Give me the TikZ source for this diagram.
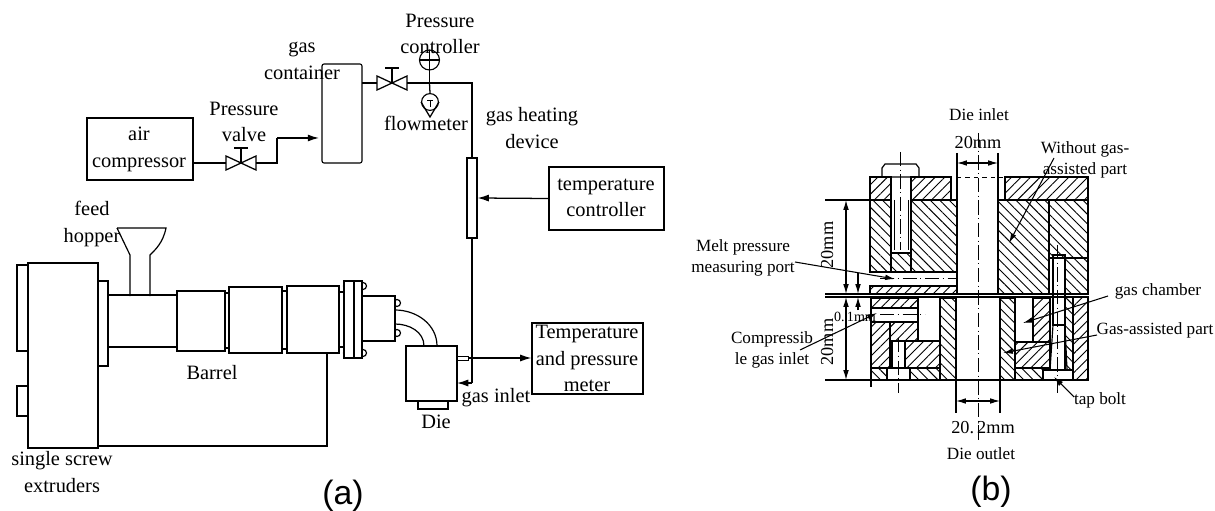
\documentclass[tikz,border=0pt]{standalone}
\usepackage{fontspec}
\setmainfont{Liberation Serif}
\setsansfont{Liberation Sans}
\usetikzlibrary{patterns.meta, arrows.meta}
\tikzset{
	box/.style={draw, line width=.8pt, inner sep=0pt, align=center},
	part/.style={draw, line width=.85pt},
	lab/.style={inner sep=0pt, align=center, font=\fontsize{14.5}{19}\selectfont},
	labsmall/.style={inner sep=0pt, align=center, font=\fontsize{12.2}{15}\selectfont},
	tag/.style={inner sep=0pt, font=\sffamily\fontsize{24}{24}\selectfont},
	pipe/.style={line width=.9pt},
	tipa/.tip={Latex[length=8pt, width=5pt]},
	tipb/.tip={Latex[length=7pt, width=4pt]},
	leader/.style={line width=.75pt, -tipb},
	dimline/.style={line width=.75pt, tipb-tipb},
	axisline/.style={line width=.7pt, dash pattern=on 10pt off 2.5pt on 1pt off 2.5pt},
	hatchr/.style={draw, line width=.85pt, pattern={Lines[angle=45, distance=4.8pt, line width=.65pt]}},
	hatchl/.style={draw, line width=.85pt, pattern={Lines[angle=-45, distance=4.8pt, line width=.65pt]}},
	valve/.pic={
		\draw[pipe] (-15,-7) -- (15,7) -- (15,-7) -- (-15,7) -- cycle;
		\draw[pipe] (0,0) -- (0,-15);
		\draw[pipe] (-7,-15) -- (7,-15);
		\coordinate (-l) at (-15,0);
		\coordinate (-r) at (15,0);
	},
}
\begin{document}
\begin{tikzpicture}[x=0.025cm, y=-0.025cm]
	\useasboundingbox (0,0) rectangle (1215,511);
	% gas line
	\node[box, minimum width=2.65cm, minimum height=1.55cm] (aircomp) at (140,149) {};
	\node[lab] (aircomp-t) at (139,149.5) {air\\compressor};
	\pic (valvea) at (241,163) {valve};
	\node[box, rounded corners=1.5pt, minimum width=1cm, minimum height=2.475cm] (tank) at (342,113.5) {};
	\pic (valveb) at (392,83) {valve};
	\node[box, minimum width=.25cm, minimum height=2cm] (heater) at (472,198) {};
	\node[box, minimum width=2.875cm, minimum height=1.575cm] (tempctrl) at (606.5,198.5) {};
	\node[lab] (tempctrl-t) at (606,198) {temperature\\controller};
	\coordinate (pipea) at (277,163);
	\coordinate (pipeb) at (277,138);
	\coordinate (tankin) at (319,138);
	\coordinate (tankout) at (362,83);
	\coordinate (pipec) at (472,83);
	\draw[pipe] (aircomp.east |- pipea) -- (valvea-l);
	\draw[pipe] (valvea-r) -- (pipea) -- (pipeb);
	\draw[pipe, -tipa] (pipeb) -- (tankin);
	\draw[pipe] (tankout) -- (valveb-l);
	\draw[pipe] (valveb-r) -- (pipec) -- (heater.north);
	\draw[pipe, -tipa] (tempctrl.west) -- (heater.east);
	% gauges
	\node[draw, circle, line width=.8pt, minimum size=.5cm, inner sep=0pt] (gaugep) at (429.5,60) {};
	\coordinate (gaugetee) at (429.5,83);
	\coordinate (gaugetop) at (429.5,50);
	\draw[pipe] (gaugetee) -- (gaugetop);
	\draw[pipe] (gaugep.west) -- (gaugep.east);
	\node[draw, circle, line width=.8pt, minimum size=.42cm, inner sep=0pt] (flowm) at (430,102) {};
	\coordinate (flowtip) at (430,117);
	\draw[pipe] (gaugetee) -- (flowm.north);
	\draw[pipe] (flowm.west) -- (flowtip) -- (flowm.east);
	\draw[line width=.6pt] (427,100) -- (433,100) (430,100) -- (430,107);
	% extruder
	\draw[part] (17,265) rectangle (28,351);
	\draw[part] (17,386) rectangle (28,416);
	\draw[part] (28,263) rectangle (98,448);
	\draw[part] (98,281) rectangle (108,366);
	\draw[part] (108,295) rectangle (177,347);
	\draw[part] (117,228) -- (166,228) .. controls (163,243) and (155,250) .. (150,255) -- (150,296);
	\draw[part] (117,228) -- (130,255) -- (130,296);
	\draw[part] (177,291) rectangle (225,351);
	\draw[part] (225,293) rectangle (229,348);
	\draw[part] (229,287) rectangle (282,353);
	\draw[part] (282,291) rectangle (287,349);
	\draw[part] (287,286) rectangle (339,353);
	\draw[part] (339,292) rectangle (344,347);
	\foreach \bx/\by in {347/286, 363/286, 347/353, 363/353, 397/303, 397/333}
		\draw[part] (\bx,\by) circle (3.5);
	\draw[part, fill=white] (344,281) rectangle (354,358);
	\draw[part, fill=white] (354,281) rectangle (362,358);
	\draw[part, fill=white] (362,296) rectangle (395,341);
	\draw[part] (395,310) to[out=0, in=90] (437,346);
	\draw[part] (395,324) to[out=0, in=90] (424,346);
	\node[box, minimum width=1.275cm, minimum height=1.375cm] (die) at (431.5,373.5) {};
	\draw[part] (418,401) rectangle (448,409);
	\draw[line width=.5pt] (457,356) rectangle (468,360);
	\coordinate (frameend) at (98,446);
	\coordinate (framecorner) at (327,446);
	\coordinate (frametop) at (327,353);
	\draw[pipe] (frameend) -- (framecorner) -- (frametop);
	\node[box, minimum width=2.775cm, minimum height=1.775cm] (meter) at (587.5,358.5) {};
	\node[lab] (meter-t) at (587,358.5) {Temperature\\and pressure\\meter};
	\coordinate (sensor) at (468,358);
	\coordinate (gaselbow) at (472,383);
	\coordinate (diein) at (457,383);
	\draw[pipe, -tipa] (sensor) -- (sensor -| meter.west);
	\draw[pipe] (heater.south) -- (gaselbow);
	\draw[pipe, -tipa] (gaselbow) -- (diein);
	% labels of (a)
	\node[lab] (lpc) at (440,34) {Pressure\\controller};
	\node[lab] (lgc) at (302,61) {gas\\container};
	\node[lab] (lpv) at (244,122) {Pressure\\valve};
	\node[lab] (lfm) at (426,123) {flowmeter};
	\node[lab] (lgh) at (532,128) {gas heating\\device};
	\node[lab] (lfh) at (92,224) {feed\\hopper};
	\node[lab] (lbr) at (212,373) {Barrel};
	\node[lab] (ldi) at (436,422) {Die};
	\node[lab] (lgi) at (496,398) {gas inlet};
	\node[lab] (lse) at (62,472) {single screw\\extruders};
	\node[tag] (taga) at (343,496) {(a)};
	% die section, hatched parts
	\foreach \xa/\ya/\xb/\yb in {
		870/177/891/200, 911/177/951/200, 1005/177/1088/200,
		870/286/957/294, 871/298/918/308, 871/322/890/368, 890/322/918/341,
		905/341/940/368, 1033/298/1050/342, 1015/342/1050/368, 1073/297/1088/380}
		\draw[hatchr] (\xa,\ya) rectangle (\xb,\yb);
	\foreach \xa/\ya/\xb/\yb in {
		870/200/891/272, 911/200/957/272, 891/253/911/272, 998/200/1049/294,
		1049/200/1088/258, 1065/258/1088/294, 940/298/956/380, 1000/298/1015/380,
		871/368/887/380, 910/368/940/380, 1015/368/1043/380, 1065/297/1073/370}
		\draw[hatchl] (\xa,\ya) rectangle (\xb,\yb);
	% die section, outlines
	\draw[part] (882,177) -- (882,168) -- (885,164) -- (916,164) -- (919,168) -- (919,177) -- cycle;
	\draw[part] (891,177) -- (891,253) -- (911,253) -- (911,177);
	\draw[line width=.5pt] (894,200) -- (894,250) (908,200) -- (908,250);
	\draw[line width=.6pt, dashed] (957,177) -- (1005,177);
	\draw[part] (870,272) -- (957,272) (870,286) -- (957,286);
	\draw[part] (957,200) -- (957,294) (998,200) -- (998,294);
	\draw[part] (871,308) -- (918,308) (871,322) -- (918,322);
	\draw[part] (918,298) -- (918,341) (940,298) -- (940,380);
	\draw[part] (892,341) rectangle (905,368);
	\draw[part] (887,368) rectangle (910,380);
	\draw[part] (1053,255) rectangle (1065,325);
	\draw[part] (1053,325) -- (1050,370) (1065,325) -- (1067,370);
	\draw[part] (1043,370) rectangle (1073,380);
	% extension lines
	\draw[line width=.85pt] (825,200) -- (870,200);
	\draw[line width=.85pt] (825,294) -- (1088,294);
	\draw[line width=.85pt] (825,297) -- (1088,297);
	\draw[line width=.85pt] (825,380) -- (1088,380);
	\draw[line width=.85pt] (871,297) -- (871,387);
	\draw[line width=.75pt] (957,153) -- (957,200) (998,153) -- (998,200);
	\draw[line width=.75pt] (956,380) -- (956,413) (1000,380) -- (1000,413);
	% axes
	\draw[axisline] (978,133) -- (978,443);
	\draw[axisline] (900,152) -- (900,250);
	\draw[axisline] (1057,245) -- (1057,393);
	\draw[axisline] (898,338) -- (898,393);
	\draw[axisline] (880,278) -- (957,278);
	\draw[axisline] (880,314) -- (925,314);
	% dimensions
	\coordinate (dimbt) at (957,163);
	\coordinate (dimbu) at (998,163);
	\coordinate (dimct) at (956,401);
	\coordinate (dimcu) at (1000,401);
	\coordinate (dimat) at (846,200);
	\coordinate (dimau) at (846,294);
	\coordinate (dimdt) at (846,297);
	\coordinate (dimdu) at (846,380);
	\coordinate (gapat) at (858,273);
	\coordinate (gapau) at (858,294);
	\coordinate (gapbt) at (858,297);
	\coordinate (gapbu) at (858,310);
	\draw[dimline] (dimbt) -- (dimbu);
	\draw[dimline] (dimct) -- (dimcu);
	\draw[dimline] (dimat) -- (dimau);
	\draw[dimline] (dimdt) -- (dimdu);
	\draw[leader] (gapat) -- (gapau);
	\draw[leader] (gapbu) -- (gapbt);
	% labels of (b)
	\node[labsmall] (ldin) at (979,115) {Die inlet};
	\node[labsmall, font=\fontsize{13}{15}\selectfont] (ltw) at (978,143) {20mm};
	\node[labsmall] (lwo) at (1085,159.5) {Without gas-\\assisted part};
	\node[labsmall] (lmp) at (743,257.5) {Melt pressure\\measuring port};
	\node[labsmall, rotate=90, font=\fontsize{13}{15}\selectfont] (ltwa) at (827,245) {20mm};
	\node[labsmall, rotate=90, font=\fontsize{13}{15}\selectfont] (ltwb) at (827,342) {20mm};
	\node[labsmall, font=\fontsize{10}{12}\selectfont] (lgap) at (855,317) {0.\,1mm};
	\node[labsmall] (lci) at (772,349.5) {Compressib\\le gas inlet};
	\node[labsmall] (lgch) at (1158,291) {gas chamber};
	\node[labsmall] (lga) at (1155,330) {Gas-assisted part};
	\node[labsmall] (ltb) at (1100,400) {tap bolt};
	\node[labsmall, font=\fontsize{13}{15}\selectfont] (ltwo) at (983,428) {20.\,2mm};
	\node[labsmall] (ldo) at (981,454) {Die outlet};
	\node[tag] (tagb) at (991,492) {(b)};
	% leaders
	\coordinate (arrmp) at (895,279);
	\coordinate (arrci) at (877,313);
	\coordinate (arrwo) at (1009,243);
	\coordinate (arrgc) at (1023,323);
	\coordinate (arrga) at (1003,353);
	\coordinate (arrtb) at (1054,377);
	\coordinate (startmp) at (795,262);
	\coordinate (startci) at (800,350);
	\coordinate (startwo) at (1054,158);
	\coordinate (startgc) at (1108,296);
	\coordinate (startga) at (1097,335);
	\coordinate (starttb) at (1074,397);
	\draw[leader] (startmp) -- (arrmp);
	\draw[leader] (startci) -- (arrci);
	\draw[leader] (startwo) -- (arrwo);
	\draw[leader] (startgc) -- (arrgc);
	\draw[leader] (startga) -- (arrga);
	\draw[leader] (starttb) -- (arrtb);
\end{tikzpicture}
\end{document}
